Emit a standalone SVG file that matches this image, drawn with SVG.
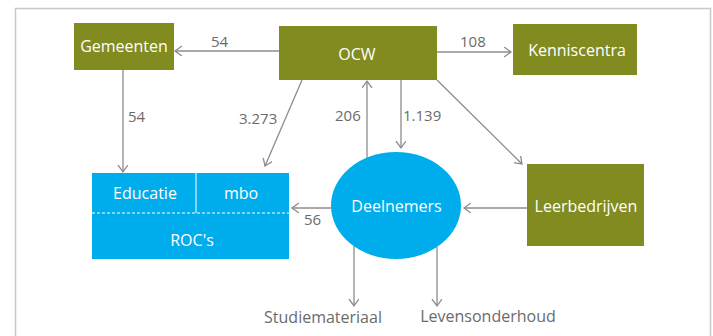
<svg xmlns="http://www.w3.org/2000/svg" width="713" height="336" viewBox="0 0 713 336">
<style>
.olive{fill:#818b1f}
.blue{fill:#00adec}
.lbl{font-family:"Open Sans","Noto Sans",sans-serif;font-size:16px;fill:#ffffff;text-anchor:middle}
.num{font-family:"Open Sans","Noto Sans",sans-serif;font-size:15px;fill:#6b6b6b}
.out{font-family:"Open Sans","Noto Sans",sans-serif;font-size:16px;fill:#6b6b6b;text-anchor:middle}
.con{stroke:#8c8c8c;stroke-width:1.3;fill:none}
</style>
<defs>
<marker id="arr" markerUnits="userSpaceOnUse" markerWidth="12" markerHeight="12" refX="7" refY="5" orient="auto">
<path d="M0,0 L7,5 L0,10" fill="none" stroke="#8c8c8c" stroke-width="1.3"/>
</marker>
</defs>
<rect width="713" height="336" fill="#ffffff"/>
<path d="M15.5,336 V8.5 H710.5 V336" fill="none" stroke="#c8c8c8" stroke-width="1.5"/>

<g id="connectors">
<path class="con" d="M279,51 H175" marker-end="url(#arr)"/>
<path class="con" d="M437,52 H511" marker-end="url(#arr)"/>
<path class="con" d="M123,70 V172" marker-end="url(#arr)"/>
<path class="con" d="M302,80 L265,166" marker-end="url(#arr)"/>
<path class="con" d="M367,158 V81" marker-end="url(#arr)"/>
<path class="con" d="M401,80 V148" marker-end="url(#arr)"/>
<path class="con" d="M437,80 L522,164" marker-end="url(#arr)"/>
<path class="con" d="M331,208 H292" marker-end="url(#arr)"/>
<path class="con" d="M527,208 H464" marker-end="url(#arr)"/>
<path class="con" d="M354,246 V306" marker-end="url(#arr)"/>
<path class="con" d="M437,247 V306" marker-end="url(#arr)"/>
<text class="num" x="211" y="47">54</text>
<text class="num" x="460" y="47">108</text>
<text class="num" x="128" y="122">54</text>
<text class="num" x="239" y="124">3.273</text>
<text class="num" x="335" y="121">206</text>
<text class="num" x="403" y="121">1.139</text>
<text class="num" x="304" y="225">56</text>
</g>

<g id="gemeenten">
<rect class="olive" x="74" y="23" width="100" height="47"/>
<text class="lbl" x="124" y="52">Gemeenten</text>
</g>
<g id="ocw">
<rect class="olive" x="279" y="26" width="158" height="54"/>
<text class="lbl" x="357" y="60">OCW</text>
</g>
<g id="kenniscentra">
<rect class="olive" x="513" y="24" width="124" height="51"/>
<text class="lbl" x="577" y="56">Kenniscentra</text>
</g>
<g id="roc">
<rect class="blue" x="92" y="173" width="197" height="86"/>
<line x1="196" y1="173" x2="196" y2="213" stroke="#ffffff" stroke-width="1"/>
<line x1="92" y1="213" x2="289" y2="213" stroke="#ffffff" stroke-width="1" stroke-dasharray="3,2"/>
<text class="lbl" x="145" y="199">Educatie</text>
<text class="lbl" x="241" y="199">mbo</text>
<text class="lbl" x="192" y="246">ROC's</text>
</g>
<g id="deelnemers">
<ellipse class="blue" cx="396" cy="205.5" rx="65" ry="53.5"/>
<text class="lbl" x="396.5" y="212">Deelnemers</text>
</g>
<g id="leerbedrijven">
<rect class="olive" x="527" y="164" width="117" height="82"/>
<text class="lbl" x="586" y="212">Leerbedrijven</text>
</g>
<g id="studiemateriaal">
<text class="out" x="323" y="323">Studiemateriaal</text>
</g>
<g id="levensonderhoud">
<text class="out" x="488" y="322">Levensonderhoud</text>
</g>
</svg>
